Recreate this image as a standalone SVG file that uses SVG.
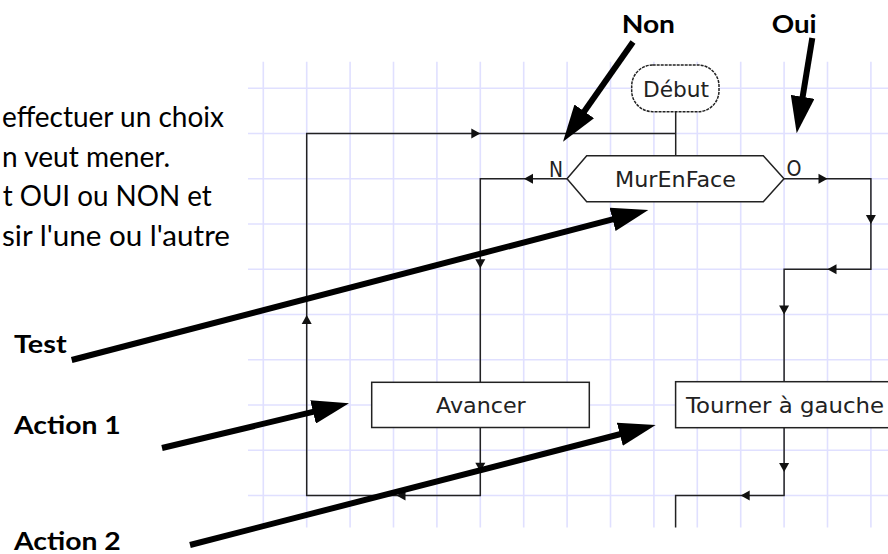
<svg xmlns="http://www.w3.org/2000/svg" width="888" height="554" viewBox="0 0 888 554">
<style>
.grid line{stroke:#e0e0ff;stroke-width:1.6}
.fl{fill:none;stroke:#222;stroke-width:1.5}
.box{fill:#fff;stroke:#222;stroke-width:1.5}
.ft{font-family:"DejaVu Sans",sans-serif;font-size:21px;fill:#222}
.para{font-family:Lato,"Liberation Sans",sans-serif;font-size:28.5px;fill:#000}
.lbl{font-family:Lato,"Liberation Sans",sans-serif;font-weight:bold;font-size:25px;fill:#000}
.big{stroke:#000;stroke-width:6;fill:none;marker-end:url(#head)}
</style>
<defs>
<marker id="head" markerUnits="userSpaceOnUse" viewBox="0 -12 38 24" markerWidth="38" markerHeight="24" refX="1" refY="0" orient="auto"><path d="M0,-12 L37,0 L0,12 z" fill="#000"/></marker>
<path id="ah" d="M-9,-5 L0,0 L-9,5 z" fill="#111"/>
</defs>
<rect width="888" height="554" fill="#fff"/>
<g class="grid">
<line x1="263.3" y1="61.7" x2="263.3" y2="527.5"/>
<line x1="306.7" y1="61.7" x2="306.7" y2="527.5"/>
<line x1="350.1" y1="61.7" x2="350.1" y2="527.5"/>
<line x1="393.5" y1="61.7" x2="393.5" y2="527.5"/>
<line x1="436.9" y1="61.7" x2="436.9" y2="527.5"/>
<line x1="480.3" y1="61.7" x2="480.3" y2="527.5"/>
<line x1="523.7" y1="61.7" x2="523.7" y2="527.5"/>
<line x1="567.1" y1="61.7" x2="567.1" y2="527.5"/>
<line x1="610.5" y1="61.7" x2="610.5" y2="527.5"/>
<line x1="653.9" y1="61.7" x2="653.9" y2="527.5"/>
<line x1="697.3" y1="61.7" x2="697.3" y2="527.5"/>
<line x1="740.7" y1="61.7" x2="740.7" y2="527.5"/>
<line x1="784.1" y1="61.7" x2="784.1" y2="527.5"/>
<line x1="827.5" y1="61.7" x2="827.5" y2="527.5"/>
<line x1="870.9" y1="61.7" x2="870.9" y2="527.5"/>
<line x1="248" y1="88.3" x2="888" y2="88.3"/>
<line x1="248" y1="133.55" x2="888" y2="133.55"/>
<line x1="248" y1="178.8" x2="888" y2="178.8"/>
<line x1="248" y1="224.05" x2="888" y2="224.05"/>
<line x1="248" y1="269.3" x2="888" y2="269.3"/>
<line x1="248" y1="314.55" x2="888" y2="314.55"/>
<line x1="248" y1="359.8" x2="888" y2="359.8"/>
<line x1="248" y1="405.05" x2="888" y2="405.05"/>
<line x1="248" y1="450.3" x2="888" y2="450.3"/>
<line x1="248" y1="495.55" x2="888" y2="495.55"/>
</g>
<g id="connectors">
<path class="fl" d="M675.7,111.7 V155.7"/>
<path class="fl" d="M480.3,427.5 V495.6 H306.7 V133.5 H675.7"/>
<path class="fl" d="M567,178.8 H480.3 V382.3"/>
<path class="fl" d="M784,178.8 H870.9 V269.3 H784.1 V381.7"/>
<path class="fl" d="M784.1,427.7 V495.6 H675.6 V527.5"/>
<use href="#ah" transform="translate(480.3,133.5)"/>
<use href="#ah" transform="translate(524,178.8) rotate(180)"/>
<use href="#ah" transform="translate(480.3,268.3) rotate(90)"/>
<use href="#ah" transform="translate(480.3,471.7) rotate(90)"/>
<use href="#ah" transform="translate(396.5,495.6) rotate(180)"/>
<use href="#ah" transform="translate(306.7,315) rotate(-90)"/>
<use href="#ah" transform="translate(827.5,178.8)"/>
<use href="#ah" transform="translate(870.9,224) rotate(90)"/>
<use href="#ah" transform="translate(827.5,269.3) rotate(180)"/>
<use href="#ah" transform="translate(784.1,314.5) rotate(90)"/>
<use href="#ah" transform="translate(784.1,472) rotate(90)"/>
<use href="#ah" transform="translate(740.7,495.6) rotate(180)"/>
<text class="ft" x="549" y="176.5" font-size="22" textLength="14" lengthAdjust="spacingAndGlyphs">N</text>
<text class="ft" x="786.5" y="175.5" font-size="22" textLength="15" lengthAdjust="spacingAndGlyphs">O</text>
</g>
<g id="debut">
<rect x="631.7" y="65" width="87.3" height="46.7" rx="21" ry="21" fill="#fff" stroke="#222" stroke-width="1.5" stroke-dasharray="3 1"/>
<text class="ft" x="643" y="96.7" textLength="66" lengthAdjust="spacingAndGlyphs">Début</text>
</g>
<g id="murenface">
<polygon class="box" points="567,178.8 586.7,155.7 763.3,155.7 784,178.8 763.3,201.7 586.7,201.7"/>
<text class="ft" x="615" y="186.7" textLength="121" lengthAdjust="spacingAndGlyphs">MurEnFace</text>
</g>
<g id="avancer">
<rect class="box" x="371.7" y="382.3" width="217.6" height="45.2"/>
<text class="ft" x="436" y="413.3" textLength="89.7" lengthAdjust="spacingAndGlyphs">Avancer</text>
</g>
<g id="tourner">
<rect class="box" x="675.6" y="381.7" width="230" height="46"/>
<text class="ft" x="686" y="413" textLength="198" lengthAdjust="spacingAndGlyphs">Tourner à gauche</text>
</g>
<g id="paragraph">
<text class="para" x="224" y="127" text-anchor="end" textLength="222" lengthAdjust="spacingAndGlyphs">effectuer un choix</text>
<text class="para" x="170" y="166.5" text-anchor="end" textLength="168" lengthAdjust="spacingAndGlyphs">n veut mener.</text>
<text class="para" x="211.7" y="205.5" text-anchor="end" textLength="209" lengthAdjust="spacingAndGlyphs">t OUI ou NON et</text>
<text class="para" x="230" y="245.5" text-anchor="end" textLength="228" lengthAdjust="spacingAndGlyphs">sir l'une ou l'autre</text>
</g>
<g id="annotations">
<text class="lbl" x="621.7" y="33" textLength="53.3" lengthAdjust="spacingAndGlyphs">Non</text>
<text class="lbl" x="771.7" y="33" textLength="45" lengthAdjust="spacingAndGlyphs">Oui</text>
<text class="lbl" x="14" y="353" textLength="52.7" lengthAdjust="spacingAndGlyphs">Test</text>
<text class="lbl" x="14" y="434" textLength="106.7" lengthAdjust="spacingAndGlyphs">Action 1</text>
<text class="lbl" x="14" y="550" textLength="106.7" lengthAdjust="spacingAndGlyphs">Action 2</text>
<line class="big" x1="633" y1="42" x2="583.7" y2="112.2"/>
<line class="big" x1="812.3" y1="38" x2="802.5" y2="97.8"/>
<line class="big" x1="71.7" y1="360" x2="613.5" y2="219.1"/>
<line class="big" x1="162" y1="448" x2="314" y2="411.7"/>
<line class="big" x1="190" y1="545" x2="620.8" y2="434"/>
</g>
</svg>
